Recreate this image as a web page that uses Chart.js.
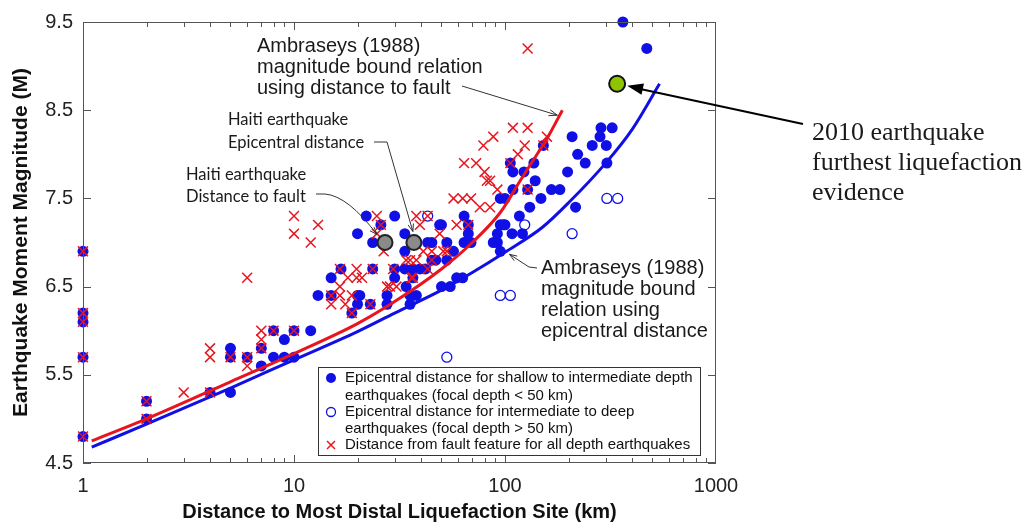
<!DOCTYPE html>
<html>
<head>
<meta charset="utf-8">
<title>Liquefaction distance vs magnitude</title>
<script src="https://cdn.jsdelivr.net/npm/chart.js@4.4.1/dist/chart.umd.min.js"></script>
<style>
  html, body { margin: 0; padding: 0; background: #fff; }
  #wrap { position: relative; width: 1026px; height: 526px; }
</style>
</head>
<body>
<div id="wrap"><canvas id="liqChart" width="1026" height="526"></canvas></div>
<script>
// Distance to most distal liquefaction site (km) vs earthquake magnitude.
// Values.

// --- shallow to intermediate depth quakes (epicentral distance) ---
const shallowKm = [
  1, 1, 1, 1, 1, 2, 2, 4, 5, 5, 5, 6, 7, 7, 8, 8, 9, 9, 10, 10,
  12, 13, 15, 15, 16.7, 18.8, 20, 20, 20, 20.5, 22, 23, 23.6, 23.6, 25.8,
  27.6, 27.6, 30, 30, 30, 33.5, 33.5, 33.5, 34, 35.5, 35.5, 36.6, 36.6, 38, 39.5,
  42, 43, 45, 45, 47, 49, 50, 50, 53, 53, 55, 57, 59, 63, 64, 64, 67, 67, 69,
  88, 92, 92, 95, 95, 95, 98, 100, 100, 106, 108, 109, 109, 117, 121, 123,
  128, 131, 137, 139, 148, 152, 166, 182, 198, 208, 216, 221, 240, 259,
  282, 285, 302, 304, 322, 362, 470
];
const shallowMag = [
  6.9, 6.2, 6.1, 5.7, 4.8, 5.2, 5.0, 5.3, 5.8, 5.7, 5.3, 5.7, 5.8, 5.6, 6.0, 5.7, 5.9, 5.7, 6.0, 5.7,
  6.0, 6.4, 6.6, 6.4, 6.7, 6.2, 7.1, 6.4, 6.3, 6.4, 7.3, 6.3, 7.0, 6.7, 7.2,
  6.4, 6.3, 7.3, 6.7, 6.6, 7.1, 6.9, 6.7, 6.5, 6.4, 6.3, 6.7, 6.6, 6.4, 6.7,
  6.7, 7.0, 7.0, 6.8, 6.8, 7.2, 7.2, 6.5, 7.0, 6.8, 6.5, 6.9, 6.6, 6.6, 7.3, 7.0, 7.2, 7.1, 7.0,
  7.0, 7.1, 7.0, 7.5, 7.2, 6.9, 7.2, 7.5, 7.2, 7.9, 7.1, 7.8, 7.6, 7.3, 7.1, 7.8,
  7.6, 7.4, 7.9, 7.7, 7.5, 8.1, 7.6, 7.6, 7.8, 8.2, 7.4, 8.0, 7.9, 8.1,
  8.2, 8.3, 8.1, 7.9, 8.3, 9.5, 9.2
];

// --- intermediate to deep quakes (epicentral distance) ---
const deepKm = [43, 53, 95, 106, 124, 208, 304, 342];
const deepMag = [7.3, 5.7, 6.4, 6.4, 7.2, 7.1, 7.5, 7.5];

// --- distance from fault feature, all depths ---
const faultKm = [
  1, 1, 1, 1, 1, 2, 2, 3, 4, 4, 4, 5, 6, 6, 6, 7, 7, 7, 8,
  10, 10, 10, 12, 13, 15, 15, 16.5, 16.5, 16.5, 17.5, 18, 18.8, 18.8, 19.8, 19.8,
  21, 23, 23.6, 24.7, 24.7, 25.8, 26.6, 27.6, 28.5, 29.5, 30.6, 34, 35.5, 36, 36.6,
  38, 38, 39.5, 41, 43, 43, 45, 45, 49, 51, 53, 57, 59, 63, 64, 67, 69, 73, 76,
  79, 80, 82, 85, 85, 88, 92, 106, 109, 115, 124, 128, 128, 128, 152, 158
];
const faultMag = [
  6.9, 6.2, 6.1, 5.7, 4.8, 5.2, 5.0, 5.3, 5.8, 5.7, 5.3, 5.7, 6.6, 5.7, 5.6, 6.0, 5.9, 5.8, 6.0,
  7.3, 7.1, 6.0, 7.0, 7.2, 6.4, 6.3, 6.7, 6.5, 6.4, 6.3, 6.6, 6.4, 6.2, 6.7, 6.6,
  6.6, 6.3, 6.7, 7.3, 7.1, 7.2, 6.9, 6.5, 6.5, 6.7, 6.5, 6.8, 6.8, 6.6, 6.6,
  7.3, 6.8, 7.2, 6.9, 7.3, 6.7, 6.8, 6.9, 7.1, 6.9, 6.9, 7.5, 7.2, 7.5, 7.9, 7.2, 7.5, 7.9, 7.4,
  8.1, 7.8, 7.7, 7.7, 7.4, 8.2, 7.6, 7.9, 8.3, 8.0, 8.1, 8.3, 7.6, 9.2, 8.1, 8.2
];

// --- Ambraseys (1988) bound curves ---
const ambEpiKm = [1.1, 2, 5, 10, 20, 30, 50, 70, 100, 150, 200, 300, 400, 540];
const ambEpiMag = [4.68, 4.94, 5.35, 5.67, 5.99, 6.2, 6.46, 6.66, 6.89, 7.17, 7.45, 7.9, 8.28, 8.8];
const ambFaultKm = [1.1, 2, 5, 10, 20, 30, 50, 70, 95, 118, 135, 160, 187];
const ambFaultMag = [4.75, 5.0, 5.42, 5.74, 6.08, 6.33, 6.7, 7.0, 7.34, 7.7, 7.92, 8.2, 8.5];

// --- highlighted events ---
const haitiKm = [27, 37];
const haitiMag = [7.0, 7.0];
const chileKm = [340];
const chileMag = [8.8];

// --- axis ticks ---
const xTickValues = [1, 2, 3, 4, 5, 6, 7, 8, 9, 10, 20, 30, 40, 50, 60, 70, 80, 90,
  100, 200, 300, 400, 500, 600, 700, 800, 900, 1000];
const xMajorValues = [1, 10, 100, 1000];
const yTickValues = [4.5, 5.5, 6.5, 7.5, 8.5, 9.5];

const SANS = "'Liberation Sans', Arial, sans-serif";
const BLUE = '#1010e6';
const RED = '#e8141e';

function pairs(xs, ys) {
  return xs.map((v, i) => ({ x: v, y: ys[i] }));
}

// little arrow helper, open "V" head or filled head
function arrowHead(ctx, fromX, fromY, toX, toY, size, filled) {
  const ang = Math.atan2(toY - fromY, toX - fromX);
  const a1 = ang + Math.PI - 0.35;
  const a2 = ang + Math.PI + 0.35;
  ctx.beginPath();
  ctx.moveTo(toX + Math.cos(a1) * size, toY + Math.sin(a1) * size);
  ctx.lineTo(toX, toY);
  ctx.lineTo(toX + Math.cos(a2) * size, toY + Math.sin(a2) * size);
  if (filled) {
    ctx.closePath();
    ctx.fill();
  } else {
    ctx.stroke();
  }
}

function textLines(ctx, lines, x, y0, step) {
  lines.forEach((t, i) => ctx.fillText(t, x, y0 + i * step));
}

const frameAndNotes = {
  id: 'frameAndNotes',
  afterDatasetsDraw(chart) {
    const { ctx, chartArea: a, scales: { x, y } } = chart;
    ctx.save();

    // box frame with inward ticks
    ctx.strokeStyle = '#555';
    ctx.lineWidth = 1;
    ctx.strokeRect(a.left + 0.5, a.top + 0.5, a.right - a.left - 1, a.bottom - a.top - 1);
    ctx.beginPath();
    xTickValues.forEach(v => {
      if (v === 1 || v === 1000) return;
      const px = Math.round(x.getPixelForValue(v)) + 0.5;
      const len = xMajorValues.includes(v) ? 8 : 5;
      ctx.moveTo(px, a.bottom); ctx.lineTo(px, a.bottom - len);
      ctx.moveTo(px, a.top); ctx.lineTo(px, a.top + len);
    });
    yTickValues.forEach(v => {
      const py = Math.round(y.getPixelForValue(v)) + 0.5;
      ctx.moveTo(a.left, py); ctx.lineTo(a.left + 8, py);
      ctx.moveTo(a.right, py); ctx.lineTo(a.right - 8, py);
    });
    ctx.stroke();

    // legend box
    const lx = 318, ly = 367, lw = 382, lh = 88;
    ctx.fillStyle = '#fff';
    ctx.fillRect(lx, ly, lw, lh);
    ctx.strokeStyle = '#333';
    ctx.strokeRect(lx + 0.5, ly + 0.5, lw, lh);
    ctx.font = '15px ' + SANS;
    ctx.textAlign = 'left';
    ctx.textBaseline = 'middle';
    ctx.fillStyle = '#111';
    textLines(ctx, ['Epicentral distance for shallow to intermediate depth',
      'earthquakes (focal depth < 50 km)'], 345, 378, 18);
    textLines(ctx, ['Epicentral distance for intermediate to deep',
      'earthquakes (focal depth > 50 km)'], 345, 412, 17);
    ctx.fillText('Distance from fault feature for all depth earthquakes', 345, 445);
    ctx.fillStyle = BLUE;
    ctx.beginPath(); ctx.arc(331, 378, 5, 0, Math.PI * 2); ctx.fill();
    ctx.strokeStyle = BLUE; ctx.lineWidth = 1.3;
    ctx.beginPath(); ctx.arc(331, 412, 4.5, 0, Math.PI * 2); ctx.stroke();
    ctx.strokeStyle = RED; ctx.lineWidth = 1.5;
    ctx.beginPath();
    ctx.moveTo(327, 441); ctx.lineTo(335, 449);
    ctx.moveTo(335, 441); ctx.lineTo(327, 449);
    ctx.stroke();

    // annotations
    ctx.fillStyle = '#1a1a1a';
    ctx.strokeStyle = '#333';
    ctx.lineWidth = 1;

    // Ambraseys, distance to fault
    ctx.font = '20px ' + SANS;
    textLines(ctx, ['Ambraseys (1988)', 'magnitude bound relation', 'using distance to fault'], 257, 46, 21);
    const rEnd = ambFaultKm.length - 1;
    const fTipX = x.getPixelForValue(ambFaultKm[rEnd]) - 5;
    const fTipY = y.getPixelForValue(ambFaultMag[rEnd]) + 5;
    ctx.beginPath(); ctx.moveTo(462, 86); ctx.lineTo(fTipX, fTipY); ctx.stroke();
    arrowHead(ctx, 462, 86, fTipX, fTipY, 9, false);

    // Haiti, epicentral distance
    ctx.font = '16.5px Lato, ' + SANS;
    textLines(ctx, ['Haiti earthquake', 'Epicentral distance'], 228, 120, 23);
    const h2x = x.getPixelForValue(haitiKm[1]);
    const h2y = y.getPixelForValue(haitiMag[1]);
    ctx.beginPath();
    ctx.moveTo(374, 142); ctx.lineTo(387, 142); ctx.lineTo(h2x - 1, h2y - 11);
    ctx.stroke();
    arrowHead(ctx, 387, 142, h2x - 1, h2y - 11, 8, false);

    // Haiti, distance to fault
    textLines(ctx, ['Haiti earthquake', 'Distance to fault'], 186, 175, 22);
    const h1x = x.getPixelForValue(haitiKm[0]);
    const h1y = y.getPixelForValue(haitiMag[0]);
    ctx.beginPath();
    ctx.moveTo(316, 194); ctx.lineTo(325, 194);
    ctx.quadraticCurveTo(348, 196, h1x - 8, h1y - 8);
    ctx.stroke();
    arrowHead(ctx, 355, 210, h1x - 8, h1y - 8, 8, false);

    // Ambraseys, epicentral distance
    ctx.font = '20px ' + SANS;
    textLines(ctx, ['Ambraseys (1988)', 'magnitude bound', 'relation using', 'epicentral distance'], 541, 268, 21);
    const eTipX = x.getPixelForValue(105);
    const eTipY = y.getPixelForValue(6.9) + 3;
    ctx.beginPath();
    ctx.moveTo(537, 268); ctx.lineTo(529, 267); ctx.lineTo(eTipX, eTipY);
    ctx.stroke();
    arrowHead(ctx, 529, 267, eTipX, eTipY, 8, false);

    // 2010 earthquake
    ctx.font = "26px 'Liberation Serif', 'Times New Roman', serif";
    textLines(ctx, ['2010 earthquake', 'furthest liquefaction', 'evidence'], 812, 133, 30);
    const cx = x.getPixelForValue(chileKm[0]) + 10;
    const cy = y.getPixelForValue(chileMag[0]) + 2;
    ctx.strokeStyle = '#000';
    ctx.fillStyle = '#000';
    ctx.lineWidth = 2;
    ctx.beginPath(); ctx.moveTo(803, 124); ctx.lineTo(cx + 12, cy + 3); ctx.stroke();
    arrowHead(ctx, 803, 124, cx, cy, 17, true);

    ctx.restore();
  }
};

const ctx = document.getElementById('liqChart');

new Chart(ctx, {
  type: 'scatter',
  data: {
    datasets: [
      {
        label: '2010 earthquake',
        data: pairs(chileKm, chileMag),
        clip: false,
        pointRadius: 8,
        pointBackgroundColor: '#8fc400',
        pointBorderColor: '#111',
        pointBorderWidth: 2
      },
      {
        label: 'Haiti earthquake',
        data: pairs(haitiKm, haitiMag),
        clip: false,
        pointRadius: 7.5,
        pointBackgroundColor: '#8a8a8a',
        pointBorderColor: '#222',
        pointBorderWidth: 2
      },
      {
        label: 'Distance from fault feature for all depth earthquakes',
        data: pairs(faultKm, faultMag),
        clip: false,
        pointStyle: 'crossRot',
        pointRadius: 7,
        borderColor: RED,
        pointBorderColor: RED,
        pointBorderWidth: 1.5
      },
      {
        label: 'Ambraseys (1988) distance to fault',
        type: 'line',
        data: pairs(ambFaultKm, ambFaultMag),
        borderColor: RED,
        borderWidth: 3,
        pointRadius: 0,
        fill: false,
        cubicInterpolationMode: 'monotone'
      },
      {
        label: 'Ambraseys (1988) epicentral distance',
        type: 'line',
        data: pairs(ambEpiKm, ambEpiMag),
        borderColor: BLUE,
        borderWidth: 3,
        pointRadius: 0,
        fill: false,
        cubicInterpolationMode: 'monotone'
      },
      {
        label: 'Epicentral distance for intermediate to deep earthquakes',
        data: pairs(deepKm, deepMag),
        clip: false,
        pointRadius: 5,
        pointBackgroundColor: 'rgba(255,255,255,0)',
        pointBorderColor: BLUE,
        pointBorderWidth: 1.3
      },
      {
        label: 'Epicentral distance for shallow to intermediate depth earthquakes',
        data: pairs(shallowKm, shallowMag),
        clip: false,
        pointRadius: 5.5,
        pointBackgroundColor: BLUE,
        pointBorderColor: BLUE,
        pointBorderWidth: 0
      }
    ]
  },
  options: {
    responsive: false,
    animation: false,
    devicePixelRatio: 1,
    layout: { padding: { top: 18, right: 310, left: 0, bottom: 0 } },
    plugins: {
      legend: { display: false },
      tooltip: { enabled: false }
    },
    scales: {
      x: {
        type: 'logarithmic',
        min: 1,
        max: 1000,
        afterBuildTicks: s => { s.ticks = xTickValues.map(v => ({ value: v })); },
        afterFit: s => { s.height = 63; },
        grid: { display: false, drawTicks: false },
        border: { display: false },
        ticks: {
          autoSkip: false,
          maxRotation: 0,
          padding: 11,
          color: '#222',
          font: { family: SANS, size: 20 },
          callback: v => (xMajorValues.includes(v) ? String(v) : '')
        },
        title: {
          display: true,
          text: 'Distance to Most Distal Liquefaction Site (km)',
          color: '#111',
          font: { family: SANS, size: 20, weight: 'bold' },
          padding: { top: 0, bottom: 2 }
        }
      },
      y: {
        min: 4.5,
        max: 9.5,
        afterBuildTicks: s => { s.ticks = yTickValues.map(v => ({ value: v })); },
        afterFit: s => { s.width = 83; },
        grid: { display: false, drawTicks: false },
        border: { display: false },
        ticks: {
          padding: 10,
          color: '#222',
          font: { family: SANS, size: 20 },
          callback: v => v.toFixed(1)
        },
        title: {
          display: true,
          text: 'Earthquake Moment Magnitude (M)',
          color: '#111',
          font: { family: SANS, size: 21, weight: 'bold' },
          padding: { top: 9, bottom: 0 }
        }
      }
    }
  },
  plugins: [frameAndNotes]
});
</script>
</body>
</html>
